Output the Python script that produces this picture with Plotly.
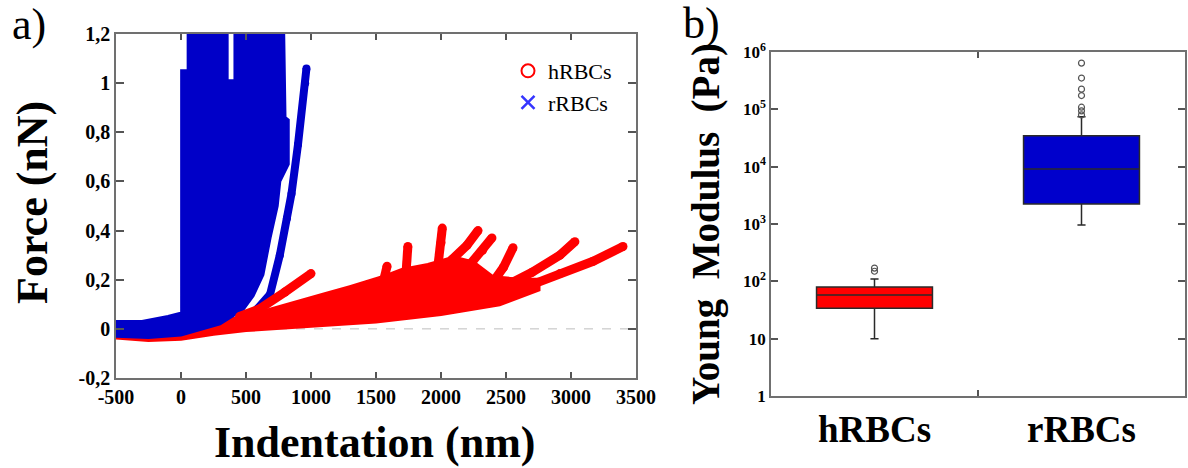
import plotly.graph_objects as go

# ---------------- Panel a data ----------------
x_ticks_a = [-500, 0, 500, 1000, 1500, 2000, 2500, 3000, 3500]
x_ticktext_a = ["-500", "0", "500", "1000", "1500", "2000", "2500", "3000", "3500"]
y_ticks_a = [-0.2, 0, 0.2, 0.4, 0.6, 0.8, 1.0, 1.2]
y_ticktext_a = ["-0,2", "0", "0,2", "0,4", "0,6", "0,8", "1", "1,2"]

# dense hRBC force-curve region (outline: upper edge then lower edge)
h_mass_x = [-500, -300, -100, 100, 300, 500, 700, 915, 1100, 1300, 1550, 1700, 1900, 2100,
            2250, 2400, 2600, 2750, 2750, 2450, 2000, 1500, 1000, 500, 250, 0, -250, -500]
h_mass_y = [0.025, 0.025, 0.005, 0.012, 0.03, 0.05, 0.08, 0.11, 0.14, 0.17, 0.21, 0.24, 0.26, 0.29,
            0.27, 0.21, 0.2, 0.2, 0.16, 0.10, 0.06, 0.03, 0.012, -0.005, -0.02, -0.04, -0.045, -0.035]

# individual hRBC curve branches (x, y) that leave the dense region
h_branch_x = [[450, 600, 800, 1000],
              [1560, 1585],
              [1730, 1745],
              [1975, 2000, 2010],
              [2080, 2200, 2285],
              [2220, 2320, 2392],
              [2400, 2480, 2554],
              [2550, 2700, 2915, 3030],
              [2700, 2915, 3170, 3400]]
h_branch_y = [[0.05, 0.08, 0.15, 0.225],
              [0.20, 0.255],
              [0.22, 0.335],
              [0.25, 0.35, 0.41],
              [0.28, 0.34, 0.40],
              [0.26, 0.32, 0.37],
              [0.19, 0.25, 0.33],
              [0.19, 0.23, 0.30, 0.355],
              [0.18, 0.225, 0.275, 0.335]]

# dense rRBC force-curve region (outline)
r_mass_x = [-500, -500, -300, -100, 5, 5, 55, 55, 355, 355, 415, 415, 790, 800, 825, 825,
            760, 740, 685, 630, 555, 480, 300, 0, -250, -500]
r_mass_y = [-0.03, 0.03, 0.03, 0.05, 0.065, 1.05, 1.05, 1.2, 1.2, 1.01, 1.01, 1.2, 1.2, 0.86, 0.85, 0.67,
            0.60, 0.50, 0.37, 0.22, 0.135, 0.08, 0.02, -0.025, -0.035, -0.03]
# separate steep rRBC curve
r_branch_x = [585, 685, 760, 815, 850, 900, 955, 965]
r_branch_y = [0.08, 0.14, 0.30, 0.45, 0.55, 0.75, 1.00, 1.06]

# ---------------- Panel b data ----------------
groups = ["hRBCs", "rRBCs"]
q1 = [34, 2240]
median = [58, 9100]
q3 = [80, 34600]
lower_fence = [10, 960]
upper_fence = [110, 74000]
outliers_h = [170, 150]
outliers_r = [640000, 351000, 225000, 174000, 109000, 94000, 80000]
y_ticks_b = [1, 10, 100, 1000, 10000, 100000, 1000000]
y_ticktext_b = ["1", "10", "10<sup>2</sup>", "10<sup>3</sup>", "10<sup>4</sup>", "10<sup>5</sup>", "10<sup>6</sup>"]

RED = "#ff0000"
BLUE = "#0000c8"
FONT = "Liberation Serif"

fig = go.Figure()

fig.add_trace(go.Scatter(x=h_mass_x, y=h_mass_y, mode="lines", fill="toself", fillcolor=RED,
                         line=dict(color=RED, width=4), showlegend=False, hoverinfo="skip"))
fig.add_trace(go.Scatter(x=r_mass_x, y=r_mass_y, mode="lines", fill="toself", fillcolor=BLUE,
                         line=dict(color=BLUE, width=3), showlegend=False, hoverinfo="skip"))
fig.add_trace(go.Scatter(x=r_branch_x, y=r_branch_y, mode="lines+markers",
                         line=dict(color=BLUE, width=8), marker=dict(color=BLUE, size=8),
                         showlegend=False, hoverinfo="skip"))
for bx, by in zip(h_branch_x, h_branch_y):
    fig.add_trace(go.Scatter(x=bx, y=by, mode="lines+markers",
                             line=dict(color=RED, width=9), marker=dict(color=RED, size=9),
                             showlegend=False, hoverinfo="skip"))

fig.add_trace(go.Scatter(x=[None], y=[None], mode="markers", name="hRBCs",
                         marker=dict(symbol="circle-open", color=RED, size=13, line=dict(width=2))))
fig.add_trace(go.Scatter(x=[None], y=[None], mode="markers", name="rRBCs",
                         marker=dict(symbol="x-thin", color="#3535ff", size=13, line=dict(width=2.5, color="#3535ff"))))

box_fill = [RED, "#0000cc"]
for i, g in enumerate(groups):
    fig.add_trace(go.Box(x=[g], q1=[q1[i]], median=[median[i]], q3=[q3[i]],
                         lowerfence=[lower_fence[i]], upperfence=[upper_fence[i]],
                         fillcolor=box_fill[i], line=dict(color="#2a2a2a", width=1.5),
                         whiskerwidth=0.07, boxpoints=False, showlegend=False,
                         xaxis="x2", yaxis="y2", hoverinfo="skip"))
fig.add_trace(go.Scatter(x=[groups[0]] * len(outliers_h) + [groups[1]] * len(outliers_r),
                         y=outliers_h + outliers_r, mode="markers",
                         marker=dict(symbol="circle-open", size=6, color="#555555", line=dict(width=1.2)),
                         showlegend=False, xaxis="x2", yaxis="y2", hoverinfo="skip"))

W, H = 1188, 468
axis_common = dict(showline=True, mirror="ticks", linecolor="#707070", linewidth=1.5, automargin=False,
                   ticks="inside", tickcolor="#555555", tickwidth=1.5, showgrid=False, zeroline=False)

fig.update_layout(
    width=W, height=H,
    margin=dict(l=0, r=0, t=0, b=0, autoexpand=False),
    paper_bgcolor="white", plot_bgcolor="white",
    font=dict(family=FONT, color="black"),
    boxmode="overlay", boxgap=0.2,
    xaxis=dict(domain=[116 / W, 636 / W], range=[-500, 3500], tickvals=x_ticks_a, ticktext=x_ticktext_a,
               ticklen=6, tickfont=dict(family=FONT, size=20, weight="bold"), anchor="y", **axis_common),
    yaxis=dict(domain=[(H - 378) / H, (H - 34) / H], range=[-0.2, 1.2], tickvals=y_ticks_a, ticktext=y_ticktext_a,
               ticklen=8, tickfont=dict(family=FONT, size=20, weight="bold"), anchor="x", **axis_common),
    xaxis2=dict(domain=[771 / W, 1185 / W], type="category", categoryorder="array", categoryarray=groups,
                range=[-0.5, 1.5], tickson="boundaries", ticklen=6,
                tickfont=dict(family=FONT, size=37, weight="bold"), anchor="y2", **axis_common),
    yaxis2=dict(domain=[(H - 396) / H, (H - 52) / H], type="log", range=[0, 6], tickvals=y_ticks_b,
                ticktext=y_ticktext_b, ticklen=7, tickfont=dict(family=FONT, size=17, weight="bold"),
                anchor="x2", **axis_common),
    legend=dict(x=508 / W, y=1 - 50 / H, xanchor="left", yanchor="top", bgcolor="rgba(0,0,0,0)",
                font=dict(family=FONT, size=22, color="black"), itemwidth=30, tracegroupgap=0),
    shapes=[dict(type="line", xref="x", yref="y", x0=-500, x1=3500, y0=0, y1=0,
                 line=dict(color="#bdbdbd", width=1, dash="dash"), layer="below")],
    annotations=[
        dict(text="Indentation (nm)", x=375 / W, y=1 - 442 / H, xref="paper", yref="paper", showarrow=False,
             font=dict(family=FONT, size=44, weight="bold"), xanchor="center", yanchor="middle"),
        dict(text="Force (nN)", x=32 / W, y=1 - 203 / H, xref="paper", yref="paper", showarrow=False,
             textangle=-90, font=dict(family=FONT, size=44, weight="bold"), xanchor="center", yanchor="middle"),
        dict(text="Young  Modulus  (Pa)", x=706 / W, y=1 - 224 / H, xref="paper", yref="paper", showarrow=False,
             textangle=-90, font=dict(family=FONT, size=39, weight="bold"), xanchor="center", yanchor="middle"),
        dict(text="a)", x=29 / W, y=1 - 24 / H, xref="paper", yref="paper", showarrow=False,
             font=dict(family=FONT, size=44), xanchor="center", yanchor="middle"),
        dict(text="b)", x=701 / W, y=1 - 23 / H, xref="paper", yref="paper", showarrow=False,
             font=dict(family=FONT, size=44), xanchor="center", yanchor="middle"),
    ],
)

fig.write_html("out.html", config={"displayModeBar": False},
               post_script="document.body.style.margin='0';")
